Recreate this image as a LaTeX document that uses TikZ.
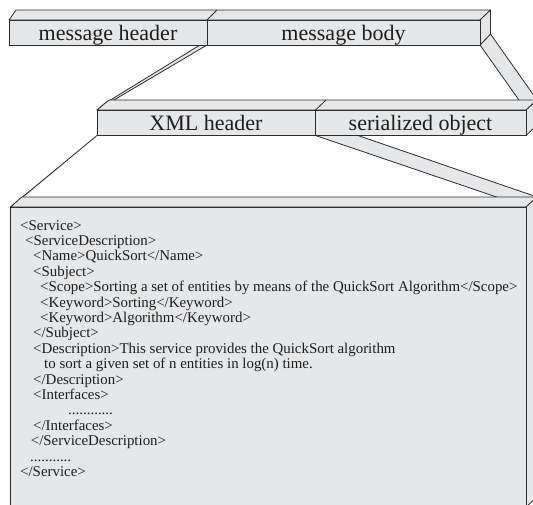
\documentclass[tikz,border=0pt]{standalone}
\usepackage{fontspec}
\setmainfont{Liberation Serif}
\definecolor{facefill}{RGB}{230,231,233}
\definecolor{edgecol}{RGB}{45,45,45}
\definecolor{txtcol}{RGB}{30,30,30}
\begin{document}
\begin{tikzpicture}[x=1pt,y=-1pt,
  face/.style={fill=facefill,draw=edgecol,line width=0.8pt,line join=round},
  title/.style={anchor=base,font=\fontsize{22}{26}\selectfont,text=txtcol,inner sep=0pt},
  code/.style={anchor=base west,font=\fontsize{14.9}{16}\selectfont,text=txtcol,inner sep=0pt}]
\useasboundingbox (0,0) rectangle (533,504);
\clip (0,0) rectangle (533,504);
% ---- coordinates: top bar
\coordinate (tfl) at (9,20);   \coordinate (tfm) at (207,20);  \coordinate (tfr) at (480,20);
\coordinate (tbl) at (9,45);   \coordinate (tbm) at (207,45);  \coordinate (tbr) at (480,45);
\coordinate (tkl) at (16,10);  \coordinate (tkm) at (217,10);  \coordinate (tkr) at (490.5,10);
\coordinate (tkrb) at (490.5,34);
% ---- second bar
\coordinate (sfl) at (97,110);  \coordinate (sfm) at (315.5,110); \coordinate (sfr) at (526,110);
\coordinate (sbl) at (97,135.5); \coordinate (sbm) at (315.5,135.5); \coordinate (sbr) at (526,135.5);
\coordinate (skl) at (109,100); \coordinate (skm) at (326,100); \coordinate (skr) at (537,100);
\coordinate (skrb) at (537,125);
% ---- big box
\coordinate (bfl) at (10.7,207); \coordinate (bfr) at (526,207);
\coordinate (bbl) at (10.7,507); \coordinate (bbr) at (526,507);
\coordinate (bkl) at (21.7,197); \coordinate (bkr) at (537,197); \coordinate (bkrb) at (537,497);
% ---- connecting bands
\draw[face] (200,45) -- (tbm) -- (sfl) -- (104,104) -- cycle;
\draw[face] (tbr) -- (tkrb) -- (skr) -- (sfr) -- cycle;
\draw[face] (sbl) -- (bfl) -- (14,204) -- cycle;
\draw[face] (sbm) -- (358,135.5) -- (bkr) -- (bfr) -- cycle;
% ---- top bar
\draw[face] (tfl) -- (tkl) -- (tkr) -- (tfr) -- cycle;
\draw[face] (tfr) -- (tkr) -- (tkrb) -- (tbr) -- cycle;
\draw[face] (tfl) rectangle (tbm);
\draw[face] (tfm) rectangle (tbr);
\draw[edgecol,line width=0.8pt] (tfm) -- (tkm);
% ---- second bar
\draw[face] (sfl) -- (skl) -- (skr) -- (sfr) -- cycle;
\draw[face] (sfr) -- (skr) -- (skrb) -- (sbr) -- cycle;
\draw[face] (sfl) rectangle (sbm);
\draw[face] (sfm) rectangle (sbr);
\draw[edgecol,line width=0.8pt] (sfm) -- (skm);
% ---- big box
\draw[face] (bfl) -- (bkl) -- (bkr) -- (bfr) -- cycle;
\draw[face] (bfr) -- (bkr) -- (bkrb) -- (bbr) -- cycle;
\draw[face] (bfl) rectangle (bbr);
% ---- titles
\node[title] (mh) at (108,40) {message header};
\node[title] (mb) at (343.5,40) {message body};
\node[title] (xh) at (206,130.5) {XML header};
\node[title] (so) at (420.5,130.5) {serialized object};
% ---- XML listing
\node[code] (l0)  at (20,230.0) {<Service>};
\node[code] (l1)  at (25,245.4) {<ServiceDescription>};
\node[code] (l2)  at (33,260.8) {<Name>QuickSort</Name>};
\node[code] (l3)  at (33,276.2) {<Subject>};
\node[code] (l4)  at (40,291.6) {<Scope>Sorting a set of entities by means of the QuickSort Algorithm</Scope>};
\node[code] (l5)  at (40,307.0) {<Keyword>Sorting</Keyword>};
\node[code] (l6)  at (40,322.4) {<Keyword>Algorithm</Keyword>};
\node[code] (l7)  at (33,337.8) {</Subject>};
\node[code] (l8)  at (33,353.2) {<Description>This service provides the QuickSort algorithm};
\node[code] (l9)  at (44,368.6) {to sort a given set of n entities in log(n) time.};
\node[code] (l10) at (33,384.0) {</Description>};
\node[code] (l11) at (33,399.4) {<Interfaces>};
\node[code] (l12) at (68,414.8) {............};
\node[code] (l13) at (33,430.2) {</Interfaces>};
\node[code] (l14) at (30.7,445.6) {</ServiceDescription>};
\node[code] (l15) at (30,461.0) {...........};
\node[code] (l16) at (20,476.4) {</Service>};
\end{tikzpicture}
\end{document}
